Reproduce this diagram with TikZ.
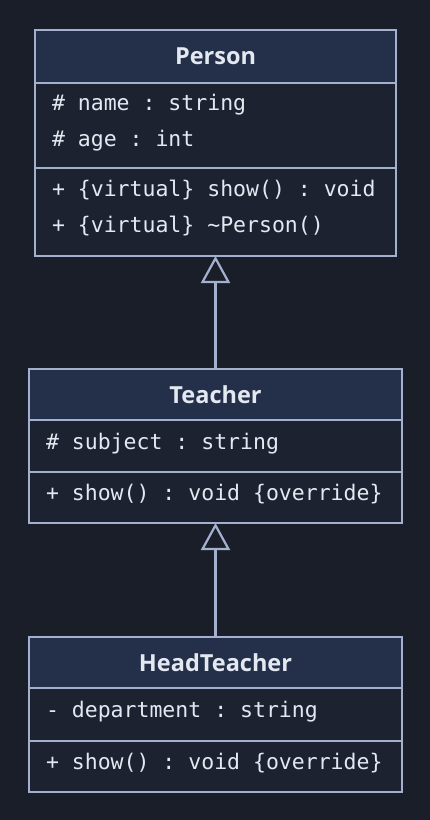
\documentclass[tikz,border=0pt]{standalone}
\usepackage{fontspec}
\setmainfont{Open Sans}
\newfontfamily\codefont{DejaVu Sans Mono}
\newcommand\memberfont{\codefont\fontsize{21.5}{36}\selectfont}
\newcommand\monospacing{\spaceskip=0.602em\relax\xspaceskip=0.602em\relax}
\usetikzlibrary{arrows.meta, positioning}
\definecolor{bgcol}{HTML}{1A1E29}
\definecolor{headcol}{HTML}{243049}
\definecolor{bodycol}{HTML}{1D2231}
\definecolor{linecol}{HTML}{A3B1CF}
\definecolor{textcol}{HTML}{E3E8F1}
\tikzset{
  classname/.style={rectangle, draw=linecol, fill=headcol, line width=2.2pt, outer sep=0, text=textcol, text centered,
    font=\fontsize{23.5}{26}\selectfont\bfseries, inner sep=0},
  members/.style={rectangle, draw=linecol, fill=bodycol, line width=2.2pt, outer sep=0, text=textcol, align=left,
    font=\memberfont, execute at begin node=\monospacing, inner xsep=17pt, inner ysep=0, text depth=10pt},
  twolines/.style={text depth=47pt},
  inherits/.style={draw=linecol, line width=2.2pt, -{Triangle[open, length=27pt, width=29pt, line width=2.2pt]}}
}
\begin{document}
\begin{tikzpicture}
      \fill[bgcol](0, 0) rectangle (430pt, -820pt);
      \useasboundingbox (0, 0) rectangle (430pt, -820pt);

      % Person
      \node[classname, minimum width=361pt, minimum height=53pt, anchor=north](person) at (215.5pt, -30pt){Person};
      \node[members, twolines, text width=327pt, minimum height=85pt, below=0pt of person](personattr){\# name : string\\\# age : int};
      \node[members, twolines, text width=327pt, minimum height=88pt, below=0pt of personattr](personops){+ \{virtual\} show() : void\\+ \{virtual\} \textasciitilde Person()};

      % Teacher
      \node[classname, minimum width=373pt, minimum height=51pt, anchor=north](teacher) at (215.5pt, -369pt){Teacher};
      \node[members, text width=339pt, minimum height=52pt, below=0pt of teacher](teacherattr){\# subject : string};
      \node[members, text width=339pt, minimum height=51pt, below=0pt of teacherattr](teacherops){+ show() : void \{override\}};

      % HeadTeacher
      \node[classname, minimum width=373pt, minimum height=51pt, anchor=north](head) at (215.5pt, -637pt){HeadTeacher};
      \node[members, text width=339pt, minimum height=53pt, below=0pt of head](headattr){- department : string};
      \node[members, text width=339pt, minimum height=51pt, below=0pt of headattr](headops){+ show() : void \{override\}};

      \draw[inherits](teacher.north)--(personops.south);
      \draw[inherits](head.north)--(teacherops.south);
    \end{tikzpicture}
\end{document}
